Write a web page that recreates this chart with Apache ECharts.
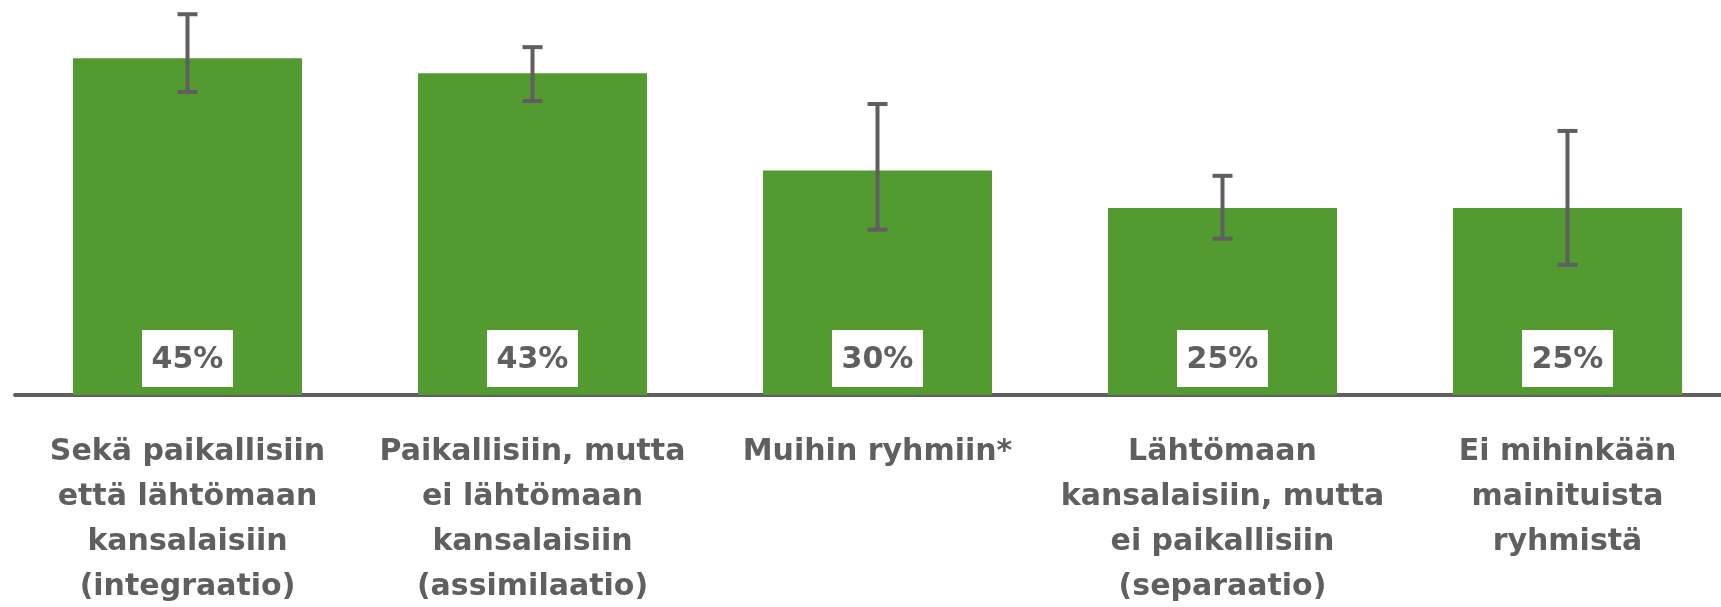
<!DOCTYPE html>
<html>
<head>
<meta charset="utf-8">
<script src="https://cdn.jsdelivr.net/npm/echarts@6/dist/echarts.min.js"></script>
<style>
  html, body { margin: 0; padding: 0; background: #fff; }
  #chart { width: 1721px; height: 607px; }
</style>
</head>
<body>
<div id="chart"></div>
<script>
// categories (line breaks as in the original)
var categories = [
  'Sekä paikallisiin\nettä lähtömaan\nkansalaisiin\n(integraatio)',
  'Paikallisiin, mutta\nei lähtömaan\nkansalaisiin\n(assimilaatio)',
  'Muihin ryhmiin*',
  'Lähtömaan\nkansalaisiin, mutta\nei paikallisiin\n(separaatio)',
  'Ei mihinkään\nmainituista\nryhmistä'
]
// percentages
var values = [45, 43, 30, 25, 25]
// error bar ends
var errLow = [40.5, 39.3, 22.1, 20.9, 17.4]
var errHigh = [50.9, 46.5, 38.9, 29.3, 35.3]

var GREEN = '#539a30'
var GRAY = '#5f5f5f'
var FONT = '"DejaVu Sans", sans-serif'

var chart = echarts.init(document.getElementById('chart'))

chart.setOption({
  animation: false,
  grid: {
    left: 15,
    right: -19,
    top: 6,
    bottom: 212,
    containLabel: false,
    outerBoundsMode: 'none'
  },
  xAxis: {
    type: 'category',
    data: categories,
    axisLine: {
      lineStyle: { color: GRAY, width: 4 }
    },
    axisTick: { show: false },
    axisLabel: {
      interval: 0,
      margin: 35,
      color: GRAY,
      fontFamily: FONT,
      fontWeight: 'bold',
      fontSize: 30,
      lineHeight: 45,
      align: 'center'
    }
  },
  yAxis: {
    type: 'value',
    min: 0,
    max: 52,
    show: false,
    splitLine: { show: false }
  },
  series: [
    {
      type: 'bar',
      data: values,
      barWidth: 229,
      itemStyle: { color: GREEN },
      label: {
        show: true,
        position: 'insideBottom',
        distance: 8,
        formatter: '{c}%',
        backgroundColor: '#fff',
        padding: [4, 0, 0, 0],
        width: 91,
        height: 53,
        lineHeight: 53,
        align: 'center',
        color: GRAY,
        fontFamily: FONT,
        fontWeight: 'bold',
        fontSize: 30
      }
    },
    {
      type: 'custom',
      z: 10,
      clip: false,
      data: categories.map(function (c, i) { return [i, errLow[i], errHigh[i]] }),
      encode: { x: 0, y: [1, 2] },
      renderItem: function (params, api) {
        var lo = api.coord([api.value(0), api.value(1)])
        var hi = api.coord([api.value(0), api.value(2)])
        var half = 10
        var style = { stroke: GRAY, lineWidth: 4 }
        return {
          type: 'group',
          children: [
            { type: 'line', shape: { x1: lo[0], y1: lo[1], x2: hi[0], y2: hi[1] }, style: style },
            { type: 'line', shape: { x1: hi[0] - half, y1: hi[1], x2: hi[0] + half, y2: hi[1] }, style: style },
            { type: 'line', shape: { x1: lo[0] - half, y1: lo[1], x2: lo[0] + half, y2: lo[1] }, style: style }
          ]
        }
      }
    }
  ]
})
</script>
</body>
</html>
